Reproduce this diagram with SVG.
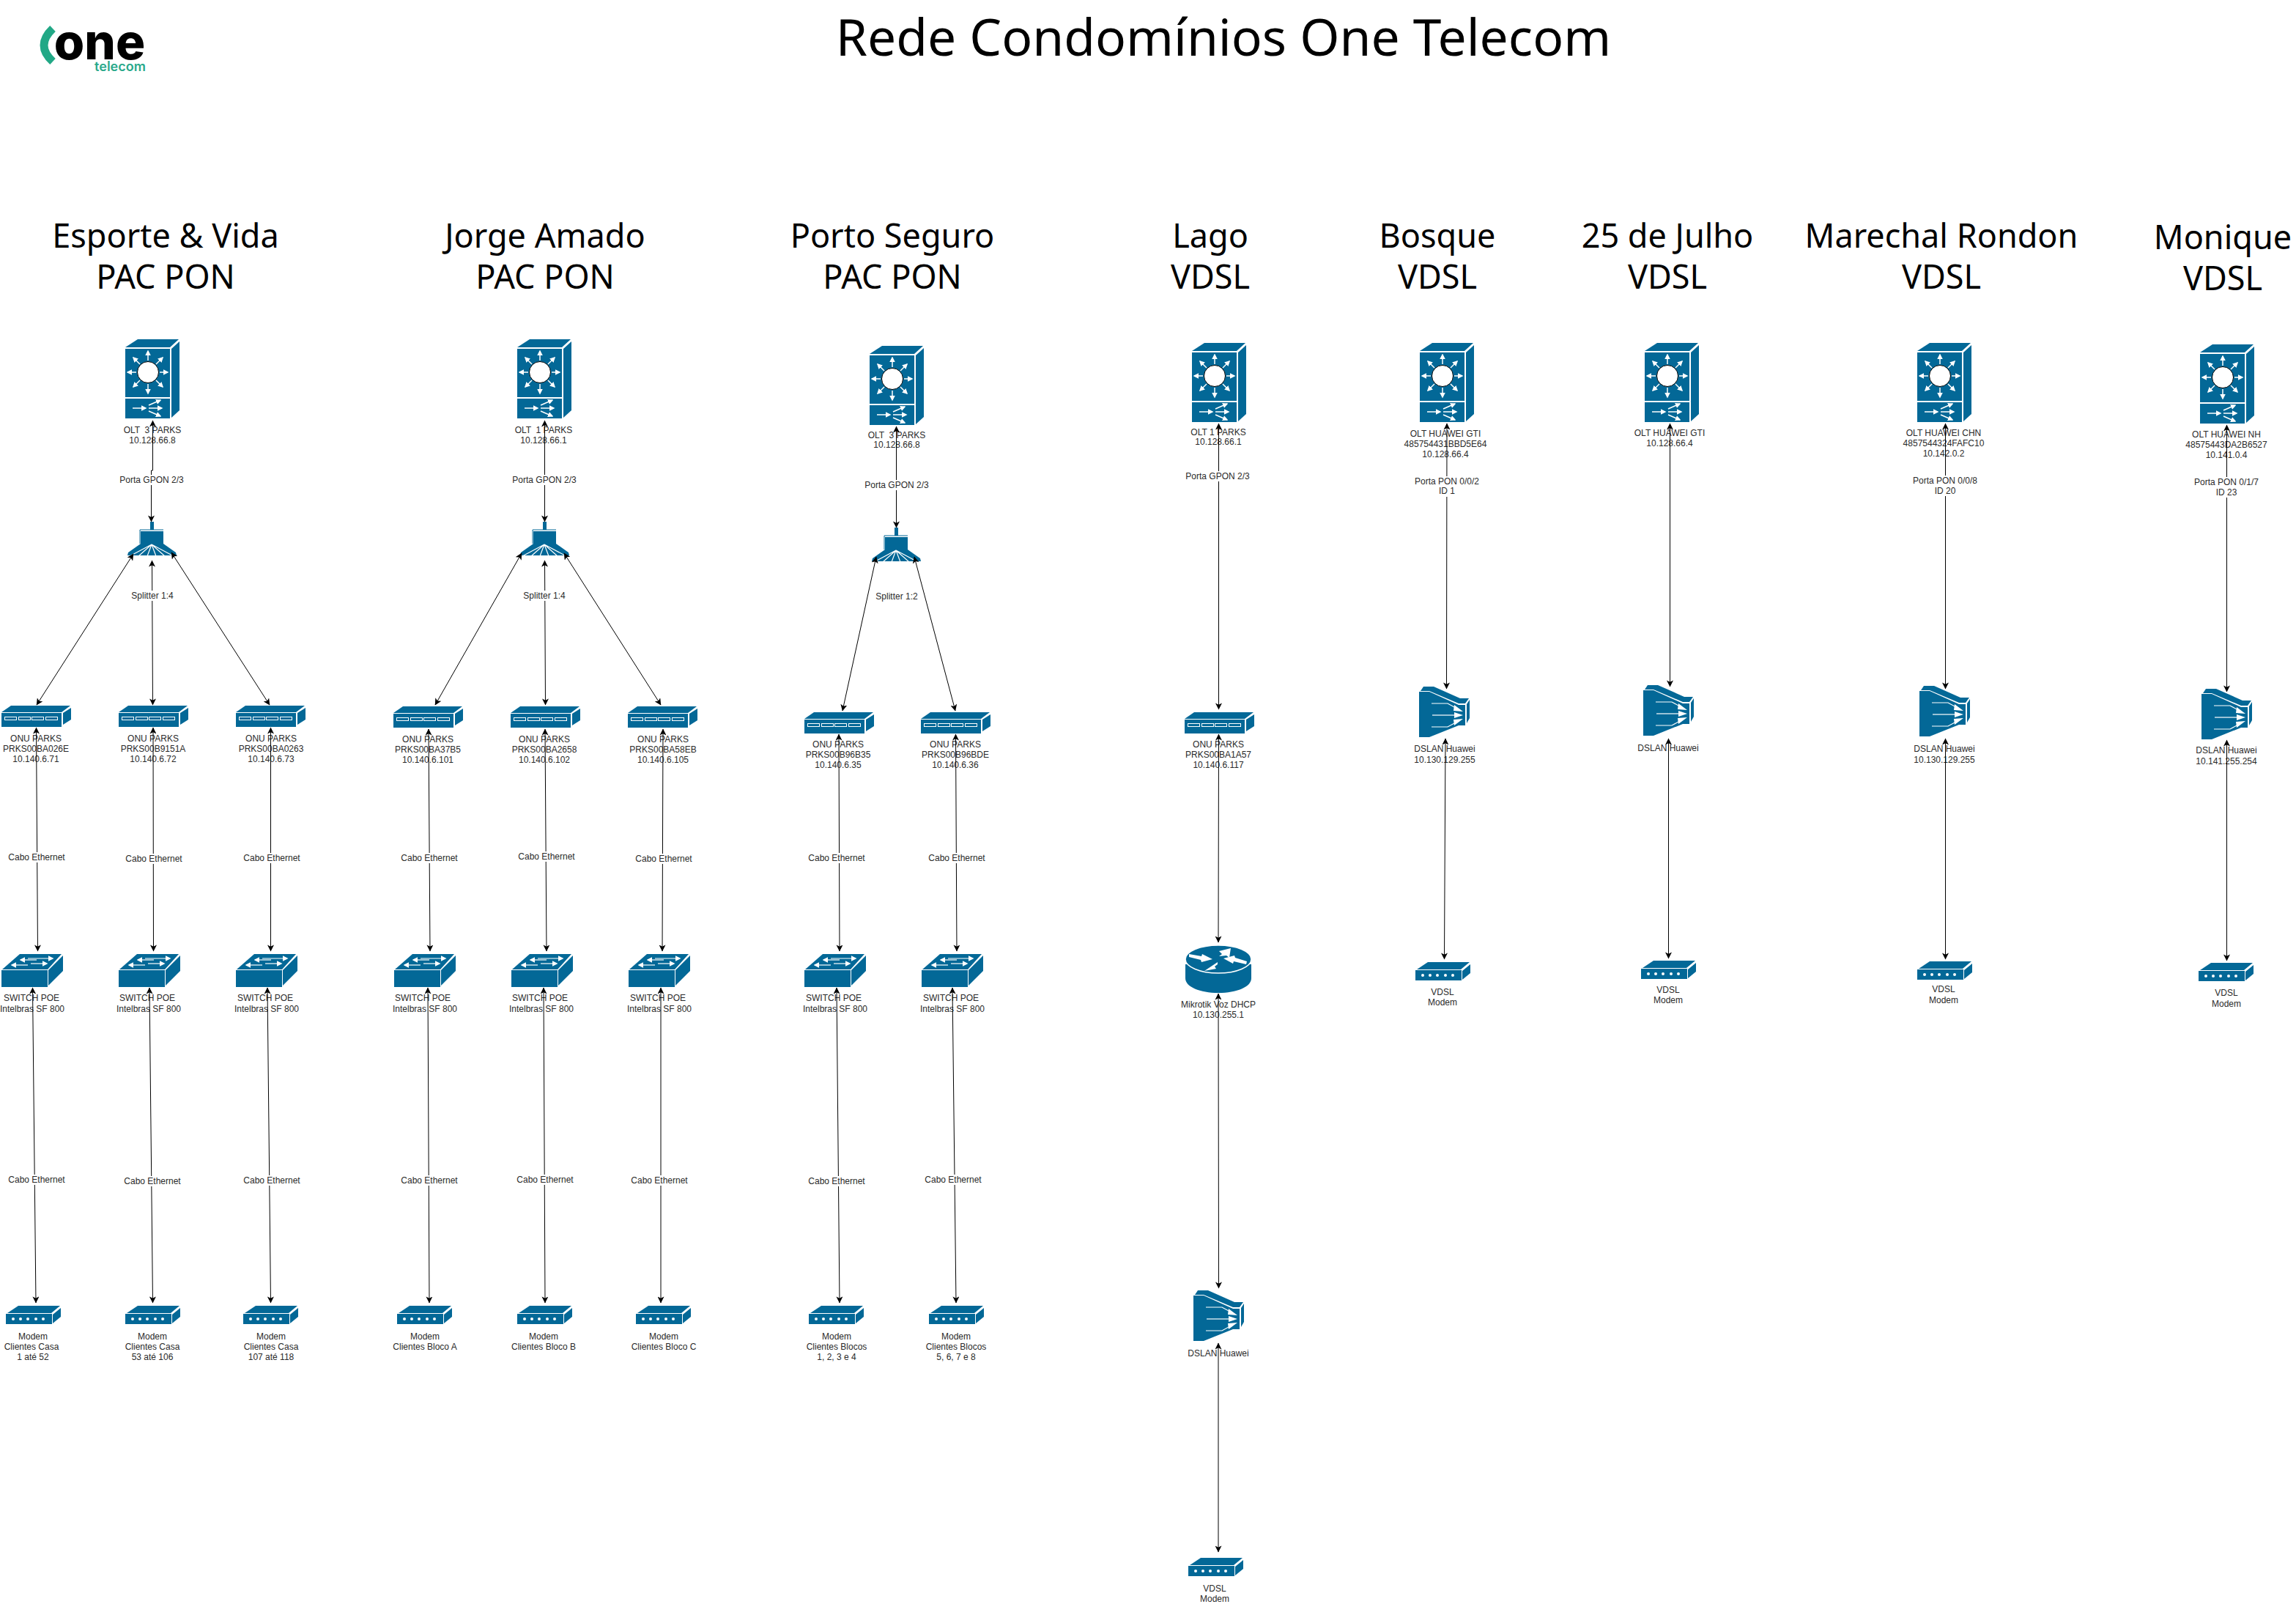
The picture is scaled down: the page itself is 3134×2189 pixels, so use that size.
<svg xmlns="http://www.w3.org/2000/svg" width="3134" height="2189" viewBox="0 0 3134 2189">
<style>
text{font-family:"Liberation Sans",Arial,sans-serif;white-space:pre;text-anchor:middle;fill:#2a2a2a}
.l{font-size:12px}
.h{font-family:"Noto Sans","Open Sans",sans-serif;font-size:45px;fill:#000}
.t{font-family:"Noto Sans","Open Sans",sans-serif;font-size:69.500px;fill:#000}
.c{fill:none;stroke:#000;stroke-width:1;marker-start:url(#a);marker-end:url(#a)}
.b{fill:#036897}
.w{fill:none;stroke:#fff;stroke-width:1.5}
.wf{fill:#fff}
.bg{fill:#fff}
</style>
<defs>
<marker id="a" viewBox="0 0 10 10" refX="9.5" refY="5" markerWidth="10" markerHeight="9" markerUnits="userSpaceOnUse" orient="auto-start-reverse"><path d="M0,0L10,5L0,10L2.5,5z" fill="#000"/></marker>
<marker id="wa" viewBox="0 0 10 10" refX="8" refY="5" markerWidth="7.500" markerHeight="7.500" markerUnits="userSpaceOnUse" orient="auto"><path d="M0,0L10,5L0,10z" fill="#fff"/></marker>
<g id="olt">
<path class="b" d="M0,11L17,0L73,0L61,11z"/>
<path class="b" d="M63,13L74,3L74,97L63,107z"/>
<rect class="b" x="0" y="13" width="61" height="66"/>
<rect class="b" x="0" y="81" width="61" height="27"/>
<circle cx="31" cy="45" r="14.5" fill="#fff" stroke="#000" stroke-width="1"/>
<g class="w" style="marker-end:url(#wa)">
<path d="M31,29V16"/><path d="M31,61V74"/><path d="M15,45H3"/><path d="M47,45H58"/>
<path d="M20,34L11,25"/><path d="M42,34L51,25"/><path d="M20,56L11,65"/><path d="M42,56L51,65"/>
<path d="M10,94H28"/><path d="M32,94H50"/><path d="M32,90L48,83"/><path d="M32,98L48,105"/>
</g>
</g>
<g id="onu">
<path class="b" d="M0,9L13,0L94,0L82,9z"/>
<path class="b" d="M84,10L95,3L95,19L84,26z"/>
<rect class="b" x="0" y="10" width="82" height="19"/>
<g stroke="#fff" stroke-width="1" fill="#036897"><rect x="4.500" y="15.500" width="16" height="4"/><rect x="23.500" y="15.500" width="16" height="4"/><rect x="41.500" y="15.500" width="16" height="4"/><rect x="60.500" y="15.500" width="16" height="4"/></g>
</g>
<g id="sw">
<path class="b" d="M1,21L25,0L82,0L63,21z"/>
<path class="b" d="M64,22L84,2L84,23L64,43z"/>
<rect class="b" x="0" y="22" width="63" height="23"/>
<g class="w" style="marker-end:url(#wa);stroke-width:1.200">
<path d="M36,6H70"/><path d="M48,8H26"/><path d="M40,13H62"/><path d="M36,15H14"/>
</g>
</g>
<g id="modem">
<path class="b" d="M2,10L17,0L74,0L62,10z"/>
<path class="b" d="M64,12L75,3L75,15L64,24z"/>
<rect class="b" x="0" y="11" width="63" height="14"/>
<g class="wf"><circle cx="10" cy="18" r="2"/><circle cx="20" cy="18" r="2"/><circle cx="30" cy="18" r="2"/><circle cx="41" cy="18" r="2"/><circle cx="51" cy="18" r="2"/></g>
</g>
<g id="router">
<path class="b" d="M0,26V45C0,57 20,65 45,65C70,65 90,57 90,45V26z"/>
<ellipse class="b" cx="45" cy="19" rx="45" ry="19" stroke="#fff" stroke-width="1.500"/>
<g class="wf"><path d="M5,12L22,15L23,12L37,19L22,23L21,20L5,16z"/><path d="M83,26L66,22L65,25L52,18L67,14L68,17L84,22z"/><path d="M46,8L62,4L60,17L56,14L46,15L50,12z"/><path d="M44,23L26,35L42,32L40,29L44,26z"/></g>
</g>
<g id="dslan">
<path class="b" d="M2,6L6,0L20,0L56,16L68,16L63,23L54,23L14,6z"/>
<path class="b" d="M0,7H14L54,25H63V53H54L14,69H0z"/>
<path class="b" d="M65,24L69,18L69,43L65,50z"/>
<g fill="none" stroke="#fff" stroke-width="1.200"><path d="M17,23H39L50,29"/><path d="M18,39H50"/><path d="M17,55H39L50,49"/></g>
<path fill="#fff" d="M48,25L60,34L47,33z"/><path fill="#fff" d="M48,35L60,39L48,43z"/><path fill="#fff" d="M47,45L60,44L48,53z"/>
</g>
<g id="split">
<rect class="b" x="-2" y="0" width="5" height="11"/>
<rect class="b" x="-15" y="13" width="31" height="19"/>
<path d="M-16,11H16M-16,11V30" fill="none" stroke="#036897" stroke-width="1"/>
<path class="b" d="M-15,30H16L33,42L34,46H-33L-32,42z"/>
<path d="M0,31L-30,47M0,31L-18,47M0,31L-6,47M0,31L6,47M0,31L18,47M0,31L30,47" stroke="#fff" stroke-width="1.200" fill="none"/>
</g>
</defs>
<rect width="3134" height="2189" fill="#fff"/>

<g id="logo">
<path d="M72,39Q48,62 72,84" fill="none" stroke="#22a886" stroke-width="11"/>
<text x="136" y="81" style="font-family:Inter,sans-serif;font-weight:800;font-size:67px;fill:#000">one</text>
<text x="164" y="97" style="font-family:Inter,sans-serif;font-weight:600;font-size:18px;fill:#2aa98b">telecom</text>
</g>
<text id="title" class="t" x="1670" y="76">Rede Condomínios One Telecom</text>

<g id="headers">
<text class="h" x="226" y="338">Esporte &amp; Vida</text><text class="h" x="226" y="394">PAC PON</text>
<text class="h" x="744" y="338">Jorge Amado</text><text class="h" x="744" y="394">PAC PON</text>
<text class="h" x="1218" y="338">Porto Seguro</text><text class="h" x="1218" y="394">PAC PON</text>
<text class="h" x="1652" y="338">Lago</text><text class="h" x="1652" y="394">VDSL</text>
<text class="h" x="1962" y="338">Bosque</text><text class="h" x="1962" y="394">VDSL</text>
<text class="h" x="2276" y="338">25 de Julho</text><text class="h" x="2276" y="394">VDSL</text>
<text class="h" x="2650" y="338">Marechal Rondon</text><text class="h" x="2650" y="394">VDSL</text>
<text class="h" x="3034" y="340">Monique</text><text class="h" x="3034" y="396">VDSL</text>
</g>

<g id="esporte-olt"><use href="#olt" x="171" y="463"/><text class="l" x="208" y="591">OLT  3 PARKS</text><text class="l" x="208" y="605">10.128.66.8</text></g>
<g id="esporte-splitter"><use href="#split" x="207" y="712"/></g>
<g id="esporte-onu1"><use href="#onu" x="2" y="963"/><text class="l" x="49" y="1012">ONU PARKS</text><text class="l" x="49" y="1026">PRKS00BA026E</text><text class="l" x="49" y="1040">10.140.6.71</text></g>
<g id="esporte-onu2"><use href="#onu" x="162" y="963"/><text class="l" x="209" y="1012">ONU PARKS</text><text class="l" x="209" y="1026">PRKS00B9151A</text><text class="l" x="209" y="1040">10.140.6.72</text></g>
<g id="esporte-onu3"><use href="#onu" x="322" y="963"/><text class="l" x="370" y="1012">ONU PARKS</text><text class="l" x="370" y="1026">PRKS00BA0263</text><text class="l" x="370" y="1040">10.140.6.73</text></g>
<g id="esporte-sw1"><use href="#sw" x="2" y="1302"/><text class="l" x="43" y="1366">SWITCH POE</text><text class="l" x="44" y="1381">Intelbras SF 800</text></g>
<g id="esporte-sw2"><use href="#sw" x="162" y="1302"/><text class="l" x="201" y="1366">SWITCH POE</text><text class="l" x="203" y="1381">Intelbras SF 800</text></g>
<g id="esporte-sw3"><use href="#sw" x="322" y="1302"/><text class="l" x="362" y="1366">SWITCH POE</text><text class="l" x="364" y="1381">Intelbras SF 800</text></g>
<g id="esporte-m1"><use href="#modem" x="8" y="1782"/><text class="l" x="45" y="1828">Modem</text><text class="l" x="43" y="1842">Clientes Casa</text><text class="l" x="45" y="1856">1 até 52</text></g>
<g id="esporte-m2"><use href="#modem" x="171" y="1782"/><text class="l" x="208" y="1828">Modem</text><text class="l" x="208" y="1842">Clientes Casa</text><text class="l" x="208" y="1856">53 até 106</text></g>
<g id="esporte-m3"><use href="#modem" x="332" y="1782"/><text class="l" x="370" y="1828">Modem</text><text class="l" x="370" y="1842">Clientes Casa</text><text class="l" x="370" y="1856">107 até 118</text></g>

<g id="jorge-olt"><use href="#olt" x="706" y="463"/><text class="l" x="742" y="591">OLT  1 PARKS</text><text class="l" x="742" y="605">10.128.66.1</text></g>
<g id="jorge-splitter"><use href="#split" x="743" y="712"/></g>
<g id="jorge-onu1"><use href="#onu" x="537" y="964"/><text class="l" x="584" y="1013">ONU PARKS</text><text class="l" x="584" y="1027">PRKS00BA37B5</text><text class="l" x="584" y="1041">10.140.6.101</text></g>
<g id="jorge-onu2"><use href="#onu" x="697" y="964"/><text class="l" x="743" y="1013">ONU PARKS</text><text class="l" x="743" y="1027">PRKS00BA2658</text><text class="l" x="743" y="1041">10.140.6.102</text></g>
<g id="jorge-onu3"><use href="#onu" x="857" y="964"/><text class="l" x="905" y="1013">ONU PARKS</text><text class="l" x="905" y="1027">PRKS00BA58EB</text><text class="l" x="905" y="1041">10.140.6.105</text></g>
<g id="jorge-sw1"><use href="#sw" x="538" y="1302"/><text class="l" x="577" y="1366">SWITCH POE</text><text class="l" x="580" y="1381">Intelbras SF 800</text></g>
<g id="jorge-sw2"><use href="#sw" x="698" y="1302"/><text class="l" x="737" y="1366">SWITCH POE</text><text class="l" x="739" y="1381">Intelbras SF 800</text></g>
<g id="jorge-sw3"><use href="#sw" x="858" y="1302"/><text class="l" x="898" y="1366">SWITCH POE</text><text class="l" x="900" y="1381">Intelbras SF 800</text></g>
<g id="jorge-m1"><use href="#modem" x="542" y="1782"/><text class="l" x="580" y="1828">Modem</text><text class="l" x="580" y="1842">Clientes Bloco A</text></g>
<g id="jorge-m2"><use href="#modem" x="706" y="1782"/><text class="l" x="742" y="1828">Modem</text><text class="l" x="742" y="1842">Clientes Bloco B</text></g>
<g id="jorge-m3"><use href="#modem" x="868" y="1782"/><text class="l" x="906" y="1828">Modem</text><text class="l" x="906" y="1842">Clientes Bloco C</text></g>

<g id="porto-olt"><use href="#olt" x="1187" y="472"/><text class="l" x="1224" y="598">OLT  3 PARKS</text><text class="l" x="1224" y="611">10.128.66.8</text></g>
<g id="porto-splitter"><use href="#split" x="1223" y="720"/></g>
<g id="porto-onu1"><use href="#onu" x="1098" y="972"/><text class="l" x="1144" y="1020">ONU PARKS</text><text class="l" x="1144" y="1034">PRKS00B96B35</text><text class="l" x="1144" y="1048">10.140.6.35</text></g>
<g id="porto-onu2"><use href="#onu" x="1257" y="972"/><text class="l" x="1304" y="1020">ONU PARKS</text><text class="l" x="1304" y="1034">PRKS00B96BDE</text><text class="l" x="1304" y="1048">10.140.6.36</text></g>
<g id="porto-sw1"><use href="#sw" x="1098" y="1302"/><text class="l" x="1138" y="1366">SWITCH POE</text><text class="l" x="1140" y="1381">Intelbras SF 800</text></g>
<g id="porto-sw2"><use href="#sw" x="1258" y="1302"/><text class="l" x="1298" y="1366">SWITCH POE</text><text class="l" x="1300" y="1381">Intelbras SF 800</text></g>
<g id="porto-m1"><use href="#modem" x="1104" y="1782"/><text class="l" x="1142" y="1828">Modem</text><text class="l" x="1142" y="1842">Clientes Blocos</text><text class="l" x="1142" y="1856">1, 2, 3 e 4</text></g>
<g id="porto-m2"><use href="#modem" x="1268" y="1782"/><text class="l" x="1305" y="1828">Modem</text><text class="l" x="1305" y="1842">Clientes Blocos</text><text class="l" x="1305" y="1856">5, 6, 7 e 8</text></g>

<g id="lago-olt"><use href="#olt" x="1627" y="468"/><text class="l" x="1663" y="594">OLT 1 PARKS</text><text class="l" x="1663" y="607">10.128.66.1</text></g>
<g id="lago-onu"><use href="#onu" x="1617" y="972"/><text class="l" x="1663" y="1020">ONU PARKS</text><text class="l" x="1663" y="1034">PRKS00BA1A57</text><text class="l" x="1663" y="1048">10.140.6.117</text></g>
<g id="lago-router"><use href="#router" x="1618" y="1290"/><text class="l" x="1663" y="1375">Mikrotik Voz DHCP</text><text class="l" x="1663" y="1389">10.130.255.1</text></g>
<g id="lago-dslan"><use href="#dslan" x="1629" y="1761"/><text class="l" x="1663" y="1851">DSLAN Huawei</text></g>
<g id="lago-modem"><use href="#modem" x="1622" y="2126"/><text class="l" x="1658" y="2172">VDSL</text><text class="l" x="1658" y="2186">Modem</text></g>

<g id="bosque-olt"><use href="#olt" x="1938" y="468"/><text class="l" x="1973" y="596">OLT HUAWEI GTI</text><text class="l" x="1973" y="610">485754431BBD5E64</text><text class="l" x="1973" y="624">10.128.66.4</text></g>
<g id="bosque-dslan"><use href="#dslan" x="1937" y="937"/><text class="l" x="1972" y="1026">DSLAN Huawei</text><text class="l" x="1972" y="1041">10.130.129.255</text></g>
<g id="bosque-modem"><use href="#modem" x="1932" y="1313"/><text class="l" x="1969" y="1358">VDSL</text><text class="l" x="1969" y="1372">Modem</text></g>

<g id="julho-olt"><use href="#olt" x="2245" y="468"/><text class="l" x="2279" y="595">OLT HUAWEI GTI</text><text class="l" x="2279" y="609">10.128.66.4</text></g>
<g id="julho-dslan"><use href="#dslan" x="2243" y="935"/><text class="l" x="2277" y="1025">DSLAN Huawei</text></g>
<g id="julho-modem"><use href="#modem" x="2240" y="1311"/><text class="l" x="2277" y="1355">VDSL</text><text class="l" x="2277" y="1369">Modem</text></g>

<g id="marechal-olt"><use href="#olt" x="2617" y="468"/><text class="l" x="2653" y="595">OLT HUAWEI CHN</text><text class="l" x="2653" y="609">4857544324FAFC10</text><text class="l" x="2653" y="623">10.142.0.2</text></g>
<g id="marechal-dslan"><use href="#dslan" x="2620" y="936"/><text class="l" x="2654" y="1026">DSLAN Huawei</text><text class="l" x="2654" y="1041">10.130.129.255</text></g>
<g id="marechal-modem"><use href="#modem" x="2617" y="1312"/><text class="l" x="2653" y="1354">VDSL</text><text class="l" x="2653" y="1369">Modem</text></g>

<g id="monique-olt"><use href="#olt" x="3003" y="470"/><text class="l" x="3039" y="597">OLT HUAWEI NH</text><text class="l" x="3039" y="611">48575443DA2B6527</text><text class="l" x="3039" y="625">10.141.0.4</text></g>
<g id="monique-dslan"><use href="#dslan" x="3005" y="940"/><text class="l" x="3039" y="1028">DSLAN Huawei</text><text class="l" x="3039" y="1043">10.141.255.254</text></g>
<g id="monique-modem"><use href="#modem" x="3001" y="1314"/><text class="l" x="3039" y="1359">VDSL</text><text class="l" x="3039" y="1374">Modem</text></g>

<g id="connectors">
<path class="c" d="M208.500,574V642H206.500V712"/>
<path class="c" d="M182,756L50,962"/><path class="c" d="M207.500,765L208.500,962"/><path class="c" d="M234,754L368,962"/>
<path class="c" d="M49.500,993L51.500,1298"/><path class="c" d="M209,993L209.500,1298"/><path class="c" d="M369.500,993L369.500,1298"/>
<path class="c" d="M44.500,1348L49,1778"/><path class="c" d="M204,1348L208.500,1778"/><path class="c" d="M365,1348L369.500,1778"/>

<path class="c" d="M743.500,574V712"/>
<path class="c" d="M712,755L594,962"/><path class="c" d="M743.500,765L744.500,962"/><path class="c" d="M770,755L902,962"/>
<path class="c" d="M585,995L587,1298"/><path class="c" d="M744,995L746,1298"/><path class="c" d="M905,995L904,1298"/>
<path class="c" d="M584,1348L586,1778"/><path class="c" d="M742,1348L744,1778"/><path class="c" d="M902,1348L902,1778"/>

<path class="c" d="M1223.500,582V720"/>
<path class="c" d="M1196,760L1150,970"/><path class="c" d="M1248,760L1304,970"/>
<path class="c" d="M1145,1002L1146,1298"/><path class="c" d="M1304.500,1002L1306,1298"/>
<path class="c" d="M1142,1348L1146,1778"/><path class="c" d="M1300,1348L1305,1778"/>

<path class="c" d="M1663.500,578V968"/>
<path class="c" d="M1663.500,1002L1663,1286"/>
<path class="c" d="M1663,1356L1663.500,1758"/>
<path class="c" d="M1663,1833V2118"/>

<path class="c" d="M1975,578L1974.500,940"/><path class="c" d="M1973,1008L1971.500,1309"/>
<path class="c" d="M2279.500,578V937"/><path class="c" d="M2277.500,1008V1308"/>
<path class="c" d="M2655.500,578V940"/><path class="c" d="M2655.500,1008V1309"/>
<path class="c" d="M3039.500,580V944"/><path class="c" d="M3039.500,1010V1311"/>
</g>

<g id="edge-labels">
<rect class="bg" x="160" y="648" width="92" height="14"/><text class="l" x="207" y="659">Porta GPON 2/3</text>
<rect class="bg" x="696" y="648" width="92" height="14"/><text class="l" x="743" y="659">Porta GPON 2/3</text>
<rect class="bg" x="1178" y="655" width="92" height="14"/><text class="l" x="1224" y="666">Porta GPON 2/3</text>
<rect class="bg" x="1616" y="643" width="92" height="14"/><text class="l" x="1662" y="654">Porta GPON 2/3</text>
<rect class="bg" x="178" y="806" width="60" height="14"/><text class="l" x="208" y="817">Splitter 1:4</text>
<rect class="bg" x="713" y="806" width="60" height="14"/><text class="l" x="743" y="817">Splitter 1:4</text>
<rect class="bg" x="1194" y="807" width="60" height="14"/><text class="l" x="1224" y="818">Splitter 1:2</text>

<rect class="bg" x="10" y="1163" width="80" height="14"/><text class="l" x="50" y="1174">Cabo Ethernet</text>
<rect class="bg" x="170" y="1165" width="80" height="14"/><text class="l" x="210" y="1176">Cabo Ethernet</text>
<rect class="bg" x="331" y="1164" width="80" height="14"/><text class="l" x="371" y="1175">Cabo Ethernet</text>
<rect class="bg" x="546" y="1164" width="80" height="14"/><text class="l" x="586" y="1175">Cabo Ethernet</text>
<rect class="bg" x="706" y="1162" width="80" height="14"/><text class="l" x="746" y="1173">Cabo Ethernet</text>
<rect class="bg" x="866" y="1165" width="80" height="14"/><text class="l" x="906" y="1176">Cabo Ethernet</text>
<rect class="bg" x="1102" y="1164" width="80" height="14"/><text class="l" x="1142" y="1175">Cabo Ethernet</text>
<rect class="bg" x="1266" y="1164" width="80" height="14"/><text class="l" x="1306" y="1175">Cabo Ethernet</text>

<rect class="bg" x="10" y="1603" width="80" height="14"/><text class="l" x="50" y="1614">Cabo Ethernet</text>
<rect class="bg" x="168" y="1605" width="80" height="14"/><text class="l" x="208" y="1616">Cabo Ethernet</text>
<rect class="bg" x="331" y="1604" width="80" height="14"/><text class="l" x="371" y="1615">Cabo Ethernet</text>
<rect class="bg" x="546" y="1604" width="80" height="14"/><text class="l" x="586" y="1615">Cabo Ethernet</text>
<rect class="bg" x="704" y="1603" width="80" height="14"/><text class="l" x="744" y="1614">Cabo Ethernet</text>
<rect class="bg" x="860" y="1604" width="80" height="14"/><text class="l" x="900" y="1615">Cabo Ethernet</text>
<rect class="bg" x="1102" y="1605" width="80" height="14"/><text class="l" x="1142" y="1616">Cabo Ethernet</text>
<rect class="bg" x="1261" y="1603" width="80" height="14"/><text class="l" x="1301" y="1614">Cabo Ethernet</text>

<rect class="bg" x="1930" y="650" width="90" height="28"/><text class="l" x="1975" y="661">Porta PON 0/0/2</text><text class="l" x="1975" y="674">ID 1</text>
<rect class="bg" x="2610" y="649" width="90" height="28"/><text class="l" x="2655" y="660">Porta PON 0/0/8</text><text class="l" x="2655" y="674">ID 20</text>
<rect class="bg" x="2994" y="651" width="90" height="28"/><text class="l" x="3039" y="662">Porta PON 0/1/7</text><text class="l" x="3039" y="676">ID 23</text>
</g>
</svg>
